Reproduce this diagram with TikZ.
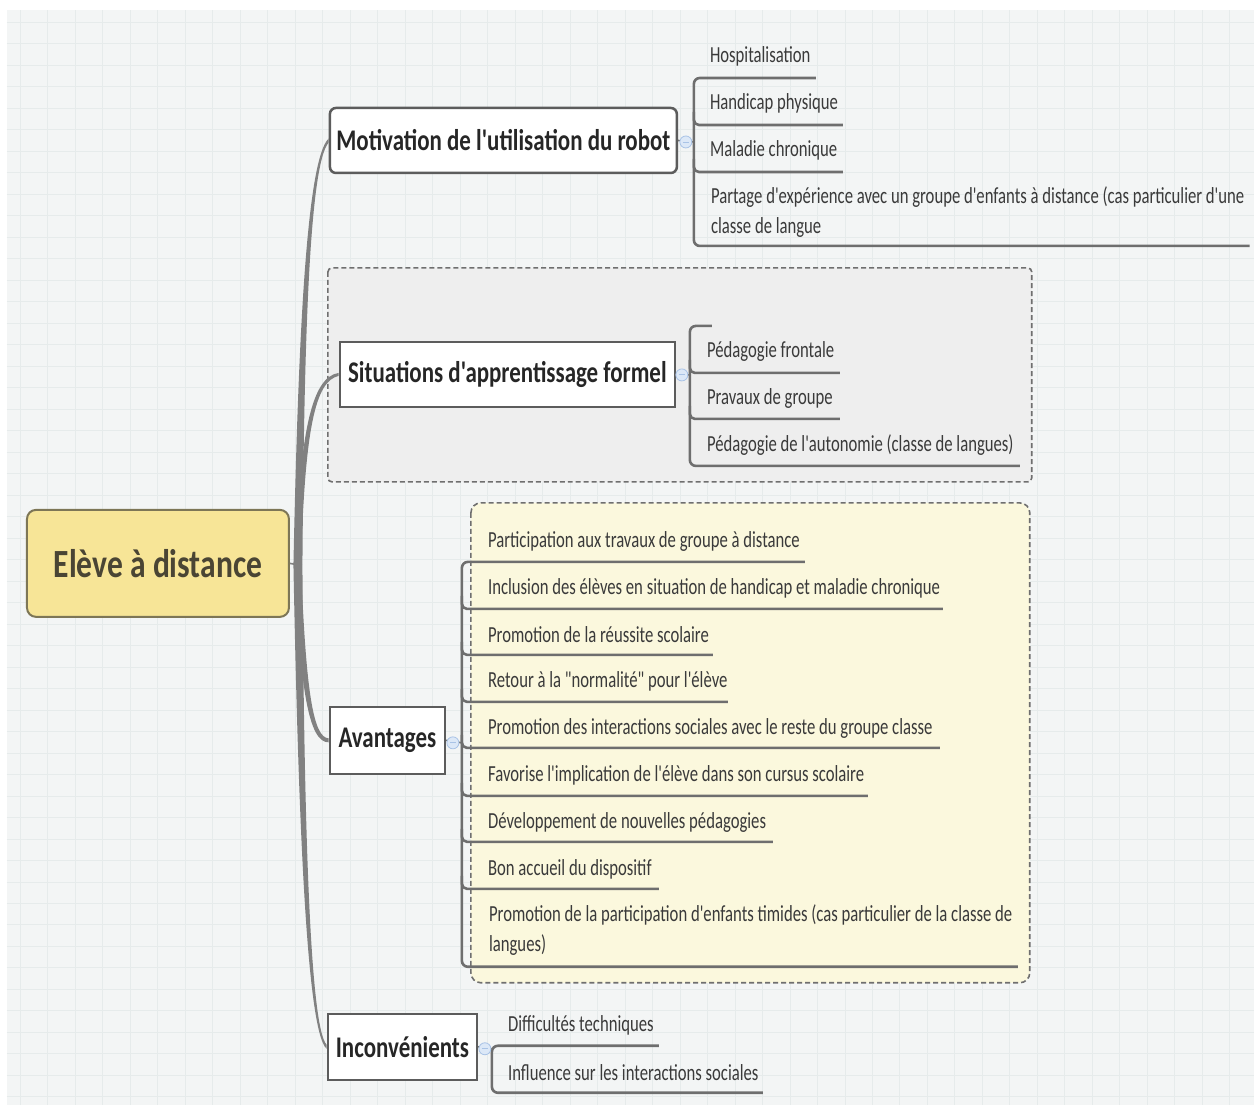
\documentclass[tikz,border=0pt]{standalone}
\usepackage{fontspec}
\newfontfamily\xmfont{Carlito}[FakeStretch=0.725]
\newfontfamily\xmbold{Carlito}[FakeStretch=0.765]
\newfontfamily\xmroot{Carlito}[FakeStretch=0.79]
\usetikzlibrary{calc}
\definecolor{bgc}{HTML}{F3F5F5}
\definecolor{gridc}{HTML}{E6EBEB}
\definecolor{rootfill}{HTML}{F7E597}
\definecolor{rootline}{HTML}{7D7656}
\definecolor{roottext}{HTML}{4A4534}
\definecolor{boxline}{HTML}{5C5C5C}
\definecolor{topictext}{HTML}{262626}
\definecolor{leaftext}{HTML}{3A3A3A}
\definecolor{ulinec}{HTML}{6E6E6E}
\definecolor{branchc}{HTML}{818181}
\definecolor{togline}{HTML}{A9C3E6}
\definecolor{togfill}{HTML}{DCE8F7}
\definecolor{groupline}{HTML}{6F6F6F}
\definecolor{grpgray}{HTML}{EEEEEE}
\definecolor{grpyellow}{HTML}{FBF8DD}
\begin{document}
\begin{tikzpicture}[x=1pt,y=-1pt,
  every node/.style={font=\xmfont},
  rootbox/.style={draw=rootline, fill=rootfill, line width=2pt, rounded corners=9pt,
    minimum width=262pt, minimum height=107pt, inner sep=0pt, text=roottext,
    font=\xmroot\bfseries\fontsize{40}{48}\selectfont},
  topic/.style={draw=boxline, fill=white, line width=2.5pt, inner sep=0pt, text=topictext,
    font=\xmbold\bfseries\fontsize{30}{36}\selectfont},
  leaf/.style={anchor=base west, inner sep=0pt, text=leaftext,
    font=\xmfont\fontsize{23}{30}\selectfont},
  uline/.style={draw=ulinec, line width=2.6pt},
  stub/.style={draw=ulinec, line width=1.6pt},
  toggle/.style={circle, draw=togline, fill=togfill, minimum size=12pt, inner sep=0pt, line width=0.8pt},
  grp/.style={draw=groupline, line width=1.6pt, dash pattern=on 5pt off 3pt}
]
% page and background
\fill[white] (0,0) rectangle (1254,1109);
\fill[bgc] (7,10) rectangle (1254,1105);
\foreach \gx in {20,47.5,...,1254} \draw[gridc, line width=0.6pt] (\gx,10) -- (\gx,1105);
\foreach \gy in {22,43.5,...,1105} \draw[gridc, line width=0.6pt] (7,\gy) -- (1254,\gy);

% groups (boundaries)
\draw[grp, fill=grpgray, rounded corners=4pt] (328,268) rectangle (1032,482);
\draw[grp, fill=grpyellow, rounded corners=10pt] (471,503) rectangle (1030,983);

% main nodes
\node[rootbox] (root) at (158,563.5) {Elève à distance};
\node[topic, rounded corners=6pt, minimum width=347pt, minimum height=65pt] (mot) at (503.5,140.5) {Motivation de l'utilisation du robot};
\node[topic, minimum width=335pt, minimum height=65pt] (sit) at (507.5,374.5) {Situations d'apprentissage formel};
\node[topic, minimum width=115pt, minimum height=67pt] (ava) at (387.5,740.5) {Avantages};
\node[topic, minimum width=149pt, minimum height=66pt] (inc) at (402.5,1047) {Inconvénients};

% main branches (tapered)
\coordinate (hub) at (298,565);
\draw[branchc, line width=1.6pt] (root.east) -- (hub);
\fill[branchc] ($(hub)+(-4.5,0)$) .. controls (298,350) and (306,160) .. ($(mot.west)+(0,-2)$)
  -- ($(mot.west)+(0,2)$) .. controls (309,165) and (304,350) .. ($(hub)+(4.5,0)$) -- cycle;
\fill[branchc] ($(hub)+(-3,0)$) .. controls (300,430) and (312,377) .. ($(sit.west)+(0,-1.5)$)
  -- ($(sit.west)+(0,1.5)$) .. controls (315,381) and (305,430) .. ($(hub)+(3,0)$) -- cycle;
\fill[branchc] ($(hub)+(-3,0)$) .. controls (300,690) and (309,743) .. ($(ava.west)+(0,2)$)
  -- ($(ava.west)+(0,-2)$) .. controls (313,738) and (306,690) .. ($(hub)+(3,0)$) -- cycle;
\fill[branchc] ($(hub)+(-4.5,0)$) .. controls (298,800) and (306,1032) .. ($(inc.west)+(0,2)$)
  -- ($(inc.west)+(0,-2)$) .. controls (309,1027) and (304,800) .. ($(hub)+(4.5,0)$) -- cycle;

% ---- Motivation children
\node[leaf] (m1) at (710,63) {Hospitalisation};
\node[leaf] (m2) at (710,110) {Handicap physique};
\node[leaf] (m3) at (710,157) {Maladie chronique};
\node[leaf, align=left] (m4) at (711,234) {Partage d'expérience avec un groupe d'enfants à distance (cas particulier d'une\\classe de langue};
\coordinate (mb) at (694,142);
\coordinate (m1u) at (816,78);
\coordinate (m2u) at (843,125);
\coordinate (m3u) at (843,172);
\coordinate (m4u) at (1250,246);
\draw[stub] (mot.east) -- (mb);
\draw[uline, rounded corners=6pt] (m1u) -- (m1u -| mb) -- (m4u -| mb) -- (m4u);
\draw[uline, rounded corners=5pt] ($(m2u -| mb)+(0,-13)$) -- (m2u -| mb) -- (m2u);
\draw[uline, rounded corners=5pt] ($(m3u -| mb)+(0,-13)$) -- (m3u -| mb) -- (m3u);
\node[toggle] (t1) at (686,142) {};
\draw[togline, line width=0.9pt] ($(t1)+(-3,0)$) -- ($(t1)+(3,0)$);

% ---- Situations children
\node[leaf] (s1) at (707,358) {Pédagogie frontale};
\node[leaf] (s2) at (707,405) {Pravaux de groupe};
\node[leaf] (s3) at (707,452) {Pédagogie de l'autonomie (classe de langues)};
\coordinate (sb) at (690,375);
\coordinate (s0u) at (712,326);
\coordinate (s1u) at (840,373);
\coordinate (s2u) at (840,419);
\coordinate (s3u) at (1020,466);
\draw[stub] (sit.east) -- (sb);
\draw[uline, rounded corners=6pt] (s0u) -- (s0u -| sb) -- (s3u -| sb) -- (s3u);
\draw[uline, rounded corners=5pt] ($(s1u -| sb)+(0,-13)$) -- (s1u -| sb) -- (s1u);
\draw[uline, rounded corners=5pt] ($(s2u -| sb)+(0,-13)$) -- (s2u -| sb) -- (s2u);
\node[toggle] (t2) at (682,375) {};
\draw[togline, line width=0.9pt] ($(t2)+(-3,0)$) -- ($(t2)+(3,0)$);

% ---- Avantages children
\node[leaf] (a1) at (488,548) {Participation aux travaux de groupe à distance};
\node[leaf] (a2) at (488,595) {Inclusion des élèves en situation de handicap et maladie chronique};
\node[leaf] (a3) at (488,643) {Promotion de la réussite scolaire};
\node[leaf] (a4) at (488,688) {Retour à la "normalité" pour l'élève};
\node[leaf] (a5) at (488,735) {Promotion des interactions sociales avec le reste du groupe classe};
\node[leaf] (a6) at (488,782) {Favorise l'implication de l'élève dans son cursus scolaire};
\node[leaf] (a7) at (488,829) {Développement de nouvelles pédagogies};
\node[leaf] (a8) at (488,876) {Bon accueil du dispositif};
\node[leaf, align=left] (a9) at (489,952) {Promotion de la participation d'enfants timides (cas particulier de la classe de\\langues)};
\coordinate (ab) at (462,743);
\coordinate (a1u) at (805,562);
\coordinate (a2u) at (943,609);
\coordinate (a3u) at (713,655);
\coordinate (a4u) at (728,702);
\coordinate (a5u) at (940,748);
\coordinate (a6u) at (868,796);
\coordinate (a7u) at (773,842);
\coordinate (a8u) at (659,889);
\coordinate (a9u) at (1018,967);
\draw[stub] (ava.east) -- (ab);
\draw[uline, rounded corners=6pt] (a1u) -- (a1u -| ab) -- (a9u -| ab) -- (a9u);
\foreach \k in {a2u,a3u,a4u,a5u,a6u,a7u,a8u}
  \draw[uline, rounded corners=5pt] ($(\k -| ab)+(0,-13)$) -- (\k -| ab) -- (\k);
\node[toggle] (t3) at (453,743) {};
\draw[togline, line width=0.9pt] ($(t3)+(-3,0)$) -- ($(t3)+(3,0)$);

% ---- Inconvenients children
\node[leaf] (i1) at (508,1032) {Difficultés techniques};
\node[leaf] (i2) at (508,1081) {Influence sur les interactions sociales};
\coordinate (ib) at (492,1049);
\coordinate (i1u) at (659,1046);
\coordinate (i2u) at (763,1093);
\draw[stub] (inc.east) -- (ib);
\draw[uline, rounded corners=6pt] (i1u) -- (i1u -| ib) -- (i2u -| ib) -- (i2u);
\node[toggle] (t4) at (485,1049) {};
\draw[togline, line width=0.9pt] ($(t4)+(-3,0)$) -- ($(t4)+(3,0)$);
\end{tikzpicture}
\end{document}
